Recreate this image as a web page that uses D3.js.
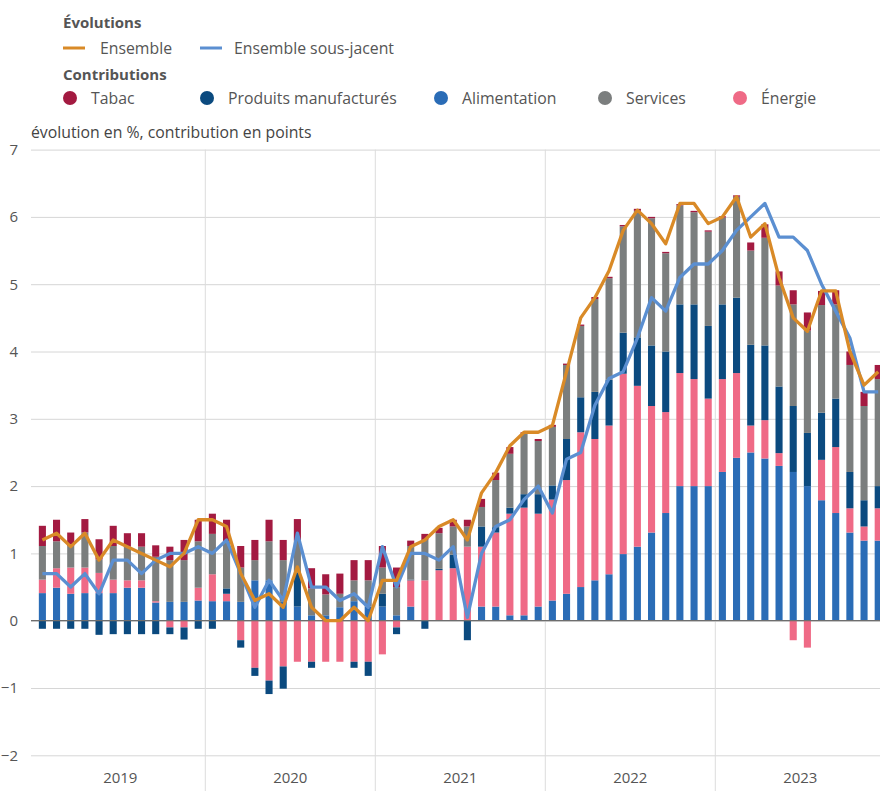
<!DOCTYPE html>
<html lang="fr">
<head>
<meta charset="utf-8">
<script src="https://cdn.jsdelivr.net/npm/d3@7"></script>
<style>
    body { margin: 0; background: #fff; }
    svg { display: block; font-family: "Open Sans", "Noto Sans", sans-serif; }
</style>
</head>
<body>
<div id="chart"></div>
<script>
var years = ['2019', '2020', '2021', '2022', '2023'];

// contributions en points, janv. 2019 -> déc. 2023
var alimentation = [
    0.41, 0.49, 0.40, 0.41, 0.41, 0.41, 0.49, 0.49, 0.27, 0.28, 0.28, 0.30,
    0.29, 0.29, 0.28, 0.60, 0.60, 0.28, 0.21, 0.08, 0.08, 0.20, 0.29, 0.21,
    0.21, 0.08, 0.21, 0.00, 0.00, 0.00, 0.00, 0.21, 0.21, 0.08, 0.08, 0.21,
    0.30, 0.40, 0.50, 0.60, 0.69, 0.99, 1.10, 1.31, 1.60, 2.00, 2.00, 2.00,
    2.21, 2.42, 2.50, 2.41, 2.30, 2.21, 2.00, 1.79, 1.60, 1.31, 1.19, 1.19
];
var energie = [
    0.20, 0.29, 0.39, 0.38, 0.30, 0.20, 0.11, 0.11, 0.02, -0.10, -0.10, 0.19,
    0.40, 0.11, -0.29, -0.70, -0.89, -0.68, -0.61, -0.61, -0.61, -0.61, -0.61, -0.61,
    -0.50, -0.10, 0.39, 0.60, 0.75, 0.78, 1.10, 0.89, 1.10, 1.51, 1.60, 1.38,
    1.50, 1.69, 2.30, 2.10, 2.21, 2.68, 2.39, 1.88, 1.50, 1.68, 1.59, 1.30,
    1.38, 1.26, 0.40, 0.57, 0.19, -0.29, -0.40, 0.60, 0.98, 0.36, 0.21, 0.48
];
var manufactures = [
    -0.12, -0.12, -0.12, -0.12, -0.21, -0.20, -0.20, -0.20, -0.20, -0.10, -0.18, -0.12,
    -0.12, 0.08, -0.11, -0.12, -0.20, -0.33, 0.50, -0.09, 0.00, 0.00, -0.09, -0.21,
    0.19, -0.10, 0.01, -0.12, 0.02, 0.20, -0.29, 0.30, 0.08, 0.09, 0.20, 0.29,
    0.21, 0.61, 0.52, 0.70, 0.68, 0.61, 0.72, 0.90, 0.90, 1.02, 1.11, 1.08,
    1.11, 1.12, 1.20, 1.11, 0.99, 0.98, 0.79, 0.70, 0.72, 0.54, 0.39, 0.33
];
var services = [
    0.50, 0.40, 0.32, 0.52, 0.20, 0.50, 0.50, 0.50, 0.66, 0.62, 0.62, 0.69,
    0.60, 0.70, 0.51, 0.30, 0.58, 0.62, 0.48, 0.40, 0.31, 0.20, 0.31, 0.39,
    0.39, 0.42, 0.50, 0.60, 0.53, 0.42, 0.30, 0.29, 0.70, 0.80, 0.90, 0.79,
    0.87, 1.10, 1.06, 1.38, 1.51, 1.58, 1.88, 1.89, 1.46, 1.47, 1.37, 1.40,
    1.29, 1.50, 1.40, 1.60, 1.50, 1.51, 1.52, 1.60, 1.40, 1.59, 1.40, 1.59
];
var tabac = [
    0.30, 0.32, 0.20, 0.20, 0.30, 0.30, 0.20, 0.20, 0.17, 0.20, 0.30, 0.32,
    0.30, 0.32, 0.32, 0.30, 0.32, 0.30, 0.32, 0.30, 0.30, 0.30, 0.30, 0.30,
    0.32, 0.29, 0.08, 0.09, 0.08, 0.10, 0.10, 0.12, 0.11, 0.10, 0.02, 0.03,
    0.03, 0.02, 0.02, 0.03, 0.02, 0.02, 0.03, 0.02, 0.02, 0.02, 0.02, 0.02,
    0.02, 0.02, 0.12, 0.20, 0.21, 0.21, 0.27, 0.21, 0.21, 0.20, 0.21, 0.21
];

// évolutions en %
var ensemble = [
    1.2, 1.3, 1.1, 1.3, 0.9, 1.2, 1.1, 1.0, 0.9, 0.8, 1.0, 1.5,
    1.5, 1.4, 0.7, 0.3, 0.4, 0.2, 0.8, 0.2, 0.0, 0.0, 0.2, 0.0,
    0.6, 0.6, 1.1, 1.2, 1.4, 1.5, 1.2, 1.9, 2.2, 2.6, 2.8, 2.8,
    2.9, 3.7, 4.5, 4.8, 5.2, 5.8, 6.1, 5.9, 5.6, 6.2, 6.2, 5.9,
    6.0, 6.3, 5.7, 5.9, 5.1, 4.5, 4.3, 4.9, 4.9, 4.0, 3.5, 3.7
];
var sousJacent = [
    0.7, 0.7, 0.5, 0.7, 0.4, 0.9, 0.9, 0.7, 0.9, 1.0, 1.0, 1.1,
    1.0, 1.2, 0.7, 0.2, 0.6, 0.3, 1.3, 0.5, 0.5, 0.3, 0.4, 0.2,
    1.1, 0.5, 1.0, 1.0, 0.9, 1.1, 0.05, 1.0, 1.4, 1.5, 1.8, 2.0,
    1.6, 2.4, 2.5, 3.2, 3.6, 3.7, 4.2, 4.8, 4.6, 5.1, 5.3, 5.3,
    5.5, 5.8, 6.0, 6.2, 5.7, 5.7, 5.5, 5.0, 4.6, 4.2, 3.4, 3.4
];

var yTicks = [-2, -1, 0, 1, 2, 3, 4, 5, 6, 7];

var totalWidth = 880;
var totalHeight = 791;

var colors = {
    alimentation: '#2a6cb6',
    energie: '#ef6a86',
    manufactures: '#0b4a7f',
    services: '#7b7e7e',
    tabac: '#a31a41',
    ensemble: '#d98a27',
    sousJacent: '#5b8fd1'
};

// ordre d'empilement (du bas vers le haut)
var stackKeys = ['alimentation', 'energie', 'manufactures', 'services', 'tabac'];
var seriesByKey = {
    alimentation: alimentation,
    energie: energie,
    manufactures: manufactures,
    services: services,
    tabac: tabac
};

var rows = alimentation.map(function(d, i) {
    var row = { idx: i };
    stackKeys.forEach(function(k) { row[k] = seriesByKey[k][i]; });
    return row;
});

var svg = d3.select('#chart').append('svg')
    .attr('width', totalWidth)
    .attr('height', totalHeight);

var xBand = d3.scaleBand()
    .domain(d3.range(alimentation.length))
    .range([35.3, 885.3])
    .paddingInner(0.5)
    .paddingOuter(0.25);

var xYear = d3.scaleLinear()
    .domain([+years[0], +years[years.length - 1] + 1])
    .range([35.3, 885.3]);

var yScale = d3.scaleLinear()
    .domain([-2, 7])
    .range([755.3, 149.6]);

// grille horizontale
var yAxis = d3.axisLeft(yScale)
    .tickValues(yTicks)
    .tickSize(-(totalWidth - 31))
    .tickPadding(13)
    .tickFormat(d3.format('d'));

var yAxisGroup = svg.append('g')
    .attr('transform', 'translate(31,0)')
    .call(yAxis);
yAxisGroup.select('.domain').remove();
yAxisGroup.selectAll('line').attr('stroke', '#d6d6d6').attr('stroke-width', 1);
yAxisGroup.selectAll('text')
    .attr('fill', '#555')
    .attr('font-size', 15)
    .attr('font-family', '"Open Sans", sans-serif');

// grille verticale aux changements d'année
svg.append('g').selectAll('line')
    .data(years.slice(1))
    .enter()
    .append('line')
    .attr('x1', d => xYear(+d))
    .attr('x2', d => xYear(+d))
    .attr('y1', yScale(7))
    .attr('y2', totalHeight)
    .attr('stroke', '#dcdcdc')
    .attr('stroke-width', 1);

// barres empilées
var stack = d3.stack()
    .keys(stackKeys)
    .offset(d3.stackOffsetDiverging);
var stacked = stack(rows);

svg.append('g').selectAll('g')
    .data(stacked)
    .enter()
    .append('g')
    .attr('fill', d => colors[d.key])
    .selectAll('rect')
    .data(d => d)
    .enter()
    .append('rect')
    .attr('x', d => xBand(d.data.idx))
    .attr('y', d => yScale(Math.max(d[0], d[1])))
    .attr('width', xBand.bandwidth())
    .attr('height', d => Math.abs(yScale(d[0]) - yScale(d[1])));

// ligne zéro
svg.append('line')
    .attr('x1', 31)
    .attr('x2', totalWidth)
    .attr('y1', yScale(0))
    .attr('y2', yScale(0))
    .attr('stroke', '#6e6e6e')
    .attr('stroke-width', 1.3);

// courbes
var line = d3.line()
    .x(function(d, i) { return xBand(i) + xBand.bandwidth() / 2; })
    .y(function(d) { return yScale(d); });

svg.append('path')
    .datum(sousJacent)
    .attr('d', line)
    .attr('fill', 'none')
    .attr('stroke', colors.sousJacent)
    .attr('stroke-width', 3.3)
    .attr('stroke-linejoin', 'round');

svg.append('path')
    .datum(ensemble)
    .attr('d', line)
    .attr('fill', 'none')
    .attr('stroke', colors.ensemble)
    .attr('stroke-width', 3.3)
    .attr('stroke-linejoin', 'round');

// années
svg.append('g').selectAll('text')
    .data(years)
    .enter()
    .append('text')
    .attr('x', d => xYear(+d + 0.5))
    .attr('y', 783)
    .attr('text-anchor', 'middle')
    .attr('fill', '#555')
    .attr('font-size', 15)
    .text(d => d);

// titre d'axe
svg.append('text')
    .attr('x', 31)
    .attr('y', 138)
    .attr('fill', '#444')
    .attr('font-size', 15.8)
    .text('évolution en %, contribution en points');

// légende
var legend = svg.append('g');
legend.append('text').attr('x', 63).attr('y', 28)
    .attr('font-size', 15).attr('font-weight', 'bold').attr('fill', '#555')
    .text('Évolutions');

var lineItems = [
    { label: 'Ensemble', key: 'ensemble', x: 63, gap: 37 },
    { label: 'Ensemble sous-jacent', key: 'sousJacent', x: 200, gap: 34 }
];
lineItems.forEach(function(it) {
    legend.append('line')
        .attr('x1', it.x).attr('x2', it.x + 22)
        .attr('y1', 48).attr('y2', 48)
        .attr('stroke', colors[it.key]).attr('stroke-width', 3);
    legend.append('text')
        .attr('x', it.x + it.gap).attr('y', 54)
        .attr('font-size', 15.8).attr('fill', '#555')
        .text(it.label);
});

legend.append('text').attr('x', 63).attr('y', 80)
    .attr('font-size', 15).attr('font-weight', 'bold').attr('fill', '#555')
    .text('Contributions');

var dotItems = [
    { label: 'Tabac', key: 'tabac', x: 70 },
    { label: 'Produits manufacturés', key: 'manufactures', x: 207 },
    { label: 'Alimentation', key: 'alimentation', x: 441 },
    { label: 'Services', key: 'services', x: 605 },
    { label: 'Énergie', key: 'energie', x: 740 }
];
dotItems.forEach(function(it) {
    legend.append('circle')
        .attr('cx', it.x).attr('cy', 98).attr('r', 7)
        .attr('fill', colors[it.key]);
    legend.append('text')
        .attr('x', it.x + 21).attr('y', 104)
        .attr('font-size', 15.8).attr('fill', '#555')
        .text(it.label);
});
</script>
</body>
</html>
